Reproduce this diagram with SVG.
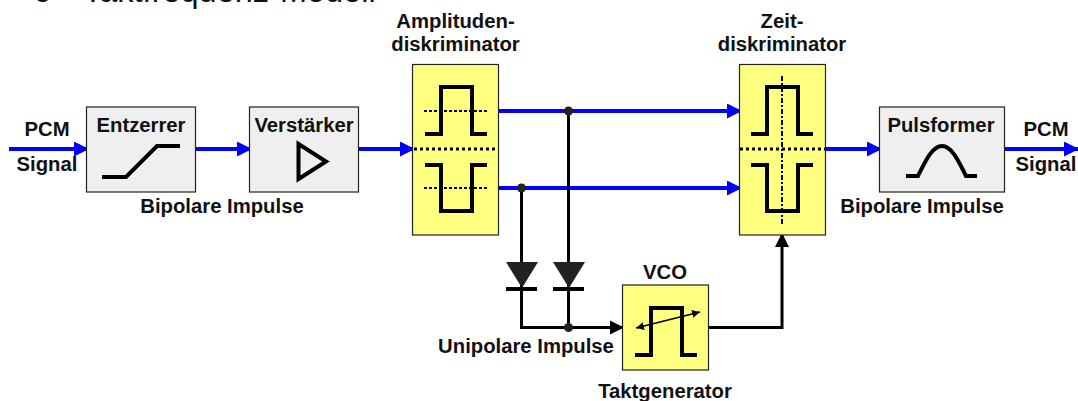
<svg xmlns="http://www.w3.org/2000/svg" width="1078" height="401" viewBox="0 0 1078 401">
<style>
text{font-family:"Liberation Sans",Arial,sans-serif;font-weight:700;font-size:20.300px;fill:#111;text-anchor:middle}
.t{font-weight:400;font-size:32.500px;text-anchor:start}
.g{fill:#efefef;stroke:#222;stroke-width:1.2}
.y{fill:#ffff80;stroke:#222;stroke-width:1.2}
.s{fill:none;stroke:#000;stroke-width:4}
.bl{fill:none;stroke:#00f;stroke-width:4}
.bk{fill:none;stroke:#000;stroke-width:3}
.d1{fill:none;stroke:#000;stroke-width:2;stroke-dasharray:3 2}
.d2{fill:none;stroke:#000;stroke-width:3;stroke-dasharray:3 3}
.d3{fill:none;stroke:#000;stroke-width:2;stroke-dasharray:5 2 2 2}
</style>
<defs>
<marker id="ab" markerUnits="userSpaceOnUse" markerWidth="15" markerHeight="15" refX="15" refY="7.5" orient="auto"><path d="M0 0L15 7.5L0 15z" fill="#00f"/></marker>
<marker id="ak" markerUnits="userSpaceOnUse" markerWidth="14" markerHeight="15" refX="14" refY="7.5" orient="auto"><path d="M0 0.5L14 7.5L0 14.500z" fill="#000"/></marker>
<marker id="as" markerUnits="userSpaceOnUse" markerWidth="8" markerHeight="8" refX="8" refY="4" orient="auto-start-reverse"><path d="M0 0L8 4L0 8z" fill="#000"/></marker>
</defs>
<text class="t" x="33" y="2">6</text>
<text class="t" x="83" y="2">Taktfrequenz-Modell</text>
<g id="connectors">
<path class="bl" d="M9 149H89" marker-end="url(#ab)"/>
<path class="bl" d="M195 149H252" marker-end="url(#ab)"/>
<path class="bl" d="M358 149H415" marker-end="url(#ab)"/>
<path class="bl" d="M498 111H742" marker-end="url(#ab)"/>
<path class="bl" d="M498 188H742" marker-end="url(#ab)"/>
<path class="bl" d="M825 149H882" marker-end="url(#ab)"/>
<path class="bl" d="M1004 149H1079" marker-end="url(#ab)"/>
<path class="bk" d="M521.500 188V327.500H624" marker-end="url(#ak)"/>
<path class="bk" d="M568.500 111V327.500"/>
<path class="bk" d="M709 327.500H782V233" marker-end="url(#ak)"/>
<circle cx="521.500" cy="188" r="4.500" fill="#222"/>
<circle cx="568.500" cy="111" r="4.500" fill="#222"/>
<circle cx="568.500" cy="327.500" r="4.500" fill="#222"/>
</g>
<g id="diode1"><path d="M506 262H538L522 288z" fill="#222"/><path class="s" d="M506 289H537"/></g>
<g id="diode2"><path d="M553 262H585L569 288z" fill="#222"/><path class="s" d="M553 289H584"/></g>
<g id="entzerrer"><rect class="g" x="86.500" y="107" width="109" height="85"/><text x="141" y="132">Entzerrer</text><path class="s" d="M102 177H126L157 146H180"/></g>
<g id="verstaerker"><rect class="g" x="249.500" y="107" width="109" height="85"/><text x="304" y="132">Verstärker</text><path class="s" d="M298.500 144L326 161.500L298.500 179z"/></g>
<g id="amp"><rect class="y" x="412.500" y="64.500" width="86" height="170.500"/>
<path class="s" d="M425 134H441V87H472V134H487M425 165H441V211H472V165H487"/>
<path class="d1" d="M424 111H488M424 188H488"/><path class="d2" d="M414 149H498"/></g>
<g id="zeit"><rect class="y" x="739.500" y="64.500" width="86" height="170.500"/>
<path class="s" d="M751 134H767V87H798V134H813M751 165H767V211H798V165H813"/>
<path class="d2" d="M740 149H825"/><path class="d3" d="M782 76V226"/></g>
<g id="pulsformer"><rect class="g" x="879.500" y="107" width="125" height="85"/><text x="941" y="132">Pulsformer</text><path class="s" d="M906 176H918C925 162 932 146 942 146C952 146 959 162 966 176H977"/></g>
<g id="vco"><rect class="y" x="622.500" y="285" width="86" height="85"/><text x="665" y="279">VCO</text>
<path class="s" d="M635 355H651V308H682V355H697"/>
<path d="M636 328L700 312" stroke="#000" stroke-width="1.500" fill="none" marker-start="url(#as)" marker-end="url(#as)"/></g>
<g id="labels">
<text x="47" y="136">PCM</text><text x="47" y="171">Signal</text>
<text x="222" y="213">Bipolare Impulse</text>
<text x="455.500" y="28">Amplituden-</text><text x="455.500" y="50.500">diskriminator</text>
<text x="782" y="28">Zeit-</text><text x="782" y="50.500">diskriminator</text>
<text x="1046" y="136">PCM</text><text x="1046" y="170.500">Signal</text>
<text x="922" y="212.500">Bipolare Impulse</text>
<text x="526" y="353">Unipolare Impulse</text>
<text x="665" y="398">Taktgenerator</text>
</g>
</svg>
